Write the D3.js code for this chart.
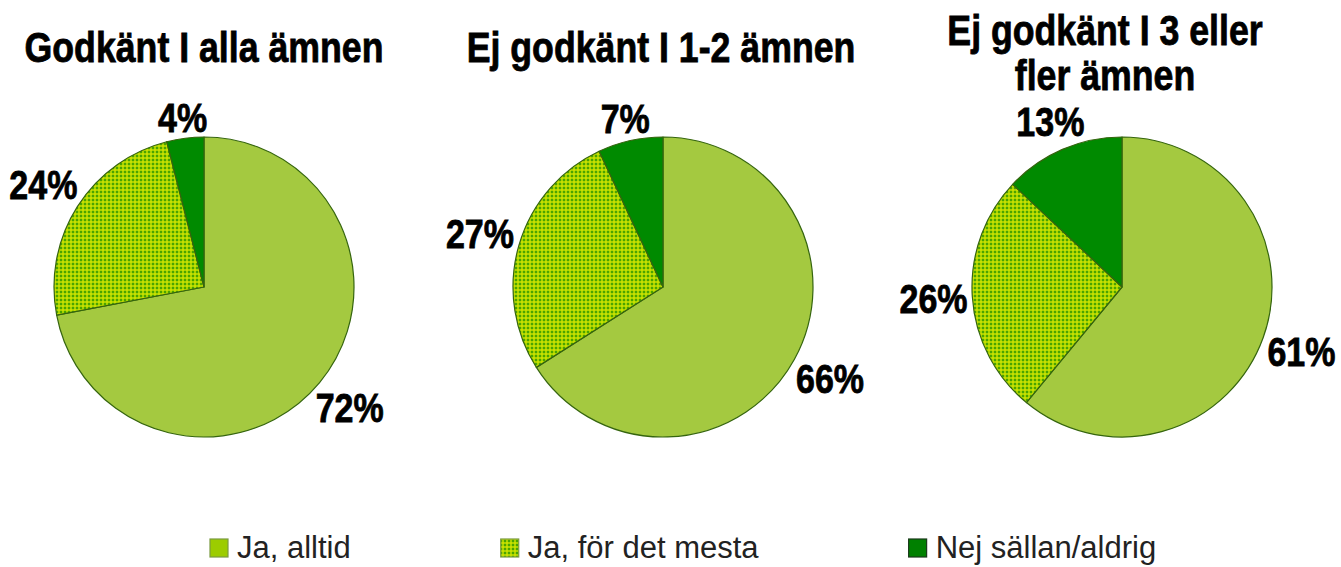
<!DOCTYPE html>
<html><head><meta charset="utf-8">
<script src="https://cdn.jsdelivr.net/npm/d3@7"></script>
<style>body{margin:0;background:#fff}svg{display:block}</style>
</head><body>
<svg id="c" width="1341" height="567"></svg>
<script>
const titles = [["Godkänt I alla ämnen"], ["Ej godkänt I 1-2 ämnen"], ["Ej godkänt I 3 eller", "fler ämnen"]];
const categories = ["Ja, alltid", "Ja, för det mesta", "Nej sällan/aldrig"];
const godkantAlla = [72, 24, 4];
const ejGodkant12 = [66, 27, 7];
const ejGodkant3plus = [61, 26, 13];
const series = [godkantAlla, ejGodkant12, ejGodkant3plus];

const R = 150, SX = 0.85;
const svg = d3.select("#c");
const defs = svg.append("defs");
const pat = defs.append("pattern").attr("id", "chk").attr("width", 4).attr("height", 4).attr("patternUnits", "userSpaceOnUse");
pat.append("rect").attr("width", 4).attr("height", 4).attr("fill", "#a8d200");
pat.append("rect").attr("width", 2).attr("height", 2).attr("fill", "#4aa400");
pat.append("rect").attr("x", 2).attr("y", 2).attr("width", 2).attr("height", 2).attr("fill", "#c6e000");

const fills = d3.scaleOrdinal().domain(categories).range(["#a4c940", "url(#chk)", "#008a00"]);
const legendFills = d3.scaleOrdinal().domain(categories).range(["#9ccc00", "url(#chk)", "#008000"]);
const cx = d3.scalePoint().domain([0, 1, 2]).range([204, 1122]);
const cyPie = 287;
const titleShift = [0, -2, -17];

const pie = d3.pie().sort(null).value(d => d.v);
const arc = d3.arc().innerRadius(0).outerRadius(R);
const FONT = "Liberation Sans, Arial, sans-serif";

series.forEach((vals, i) => {
  const g = svg.append("g").attr("transform", `translate(${cx(i)},${cyPie})`);
  const data = pie(vals.map((v, k) => ({ v, c: categories[k] })));
  g.selectAll("path").data(data).join("path")
    .attr("d", arc)
    .attr("fill", d => fills(d.data.c))
    .attr("stroke", "#35650e").attr("stroke-width", 1.2).attr("stroke-linejoin", "round");

  const lab = g.selectAll("text.lab").data(data).join("text").attr("class", "lab")
    .attr("font-family", FONT).attr("font-weight", "bold")
    .attr("font-size", 40).attr("fill", "#000").attr("stroke", "#000").attr("stroke-width", 0.8)
    .attr("text-anchor", "middle").attr("dy", "0.36em")
    .text(d => d.data.v + "%");
  lab.each(function (d) {
    const w = this.getComputedTextLength() * SX;
    const a = (d.startAngle + d.endAngle) / 2;
    const hw = w / 2, hh = 14, gap = 4;
    const dist = R + gap + hw * Math.abs(Math.sin(a)) + hh * Math.abs(Math.cos(a));
    d3.select(this).attr("transform", `translate(${dist * Math.sin(a)},${-dist * Math.cos(a)}) scale(${SX},1)`);
  });

  const lines = titles[i];
  const base = lines.length === 1 ? 62 : 45;
  svg.selectAll(null).data(lines).join("text")
    .attr("transform", (d, k) => `translate(${cx(i) + titleShift[i]},${base + k * 45}) scale(${SX},1)`)
    .attr("text-anchor", "middle")
    .attr("font-family", FONT).attr("font-weight", "bold")
    .attr("font-size", 42).attr("fill", "#000").attr("stroke", "#000").attr("stroke-width", 0.8)
    .text(d => d);
});

// legend
const lg = svg.append("g");
let lx = 210;
categories.forEach((c, k) => {
  lg.append("rect").attr("x", lx).attr("y", 539).attr("width", 18).attr("height", 18)
    .attr("fill", legendFills(c)).attr("stroke", k === 2 ? "#1a3a1a" : "#7a9a40").attr("stroke-width", 1.2);
  const tx = lg.append("text").attr("x", lx + 27).attr("y", 558)
    .attr("font-family", FONT).attr("font-size", 31)
    .attr("fill", "#222").text(c);
  lx += 27 + tx.node().getComputedTextLength() + 150;
});
</script>
</body></html>
